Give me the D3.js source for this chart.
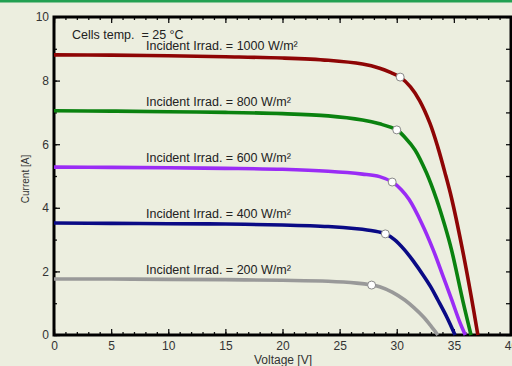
<!DOCTYPE html>
<html>
<head>
<meta charset="utf-8">
<script src="https://cdn.jsdelivr.net/npm/d3@7"></script>
<style>
  html, body { margin: 0; padding: 0; background: #eceedf; }
  svg { display: block; font-family: "Liberation Sans", Arial, sans-serif; }
</style>
</head>
<body>
<svg id="chart" width="512" height="366"></svg>
<script>
// irradiance levels, top to bottom
const irradiance = [1000, 800, 600, 400, 200];
const colors = ['#8e0505', '#0a820f', '#9a2cf5', '#0a0a85', '#999999'];

// I-V curves: voltage [V], current [A]
const volts1000 = [0, 5, 10, 15, 20, 24, 27, 28.5, 29.5, 30.3, 31.2, 32.0, 32.9, 33.6, 34.2, 34.8, 35.7, 36.5, 37.1];
const amps1000  = [8.81, 8.80, 8.78, 8.75, 8.71, 8.64, 8.52, 8.39, 8.25, 8.11, 7.80, 7.37, 6.66, 5.90, 5.13, 4.30, 2.78, 1.25, 0];
const volts800  = [0, 5, 10, 15, 20, 24, 27, 28.5, 30.0, 30.8, 31.6, 32.6, 33.5, 34.2, 34.8, 35.8, 36.5];
const amps800   = [7.05, 7.04, 7.02, 7.00, 6.96, 6.89, 6.76, 6.64, 6.45, 6.18, 5.82, 5.10, 4.25, 3.45, 2.67, 1.05, 0];
const volts600  = [0, 5, 10, 15, 20, 24, 27, 28.5, 29.6, 30.4, 31.1, 32.2, 33.2, 34.0, 34.8, 35.5, 36.0];
const amps600   = [5.28, 5.27, 5.26, 5.24, 5.21, 5.15, 5.06, 4.98, 4.81, 4.57, 4.25, 3.50, 2.67, 1.90, 1.12, 0.42, 0];
const volts400  = [0, 5, 10, 15, 20, 24, 26.5, 28, 29.0, 29.8, 30.7, 31.5, 32.3, 33.0, 33.6, 34.4, 35.1];
const amps400   = [3.52, 3.51, 3.50, 3.49, 3.46, 3.41, 3.34, 3.27, 3.18, 3.00, 2.67, 2.30, 1.89, 1.50, 1.10, 0.55, 0];
const volts200  = [0, 5, 10, 15, 20, 24, 26.5, 27.8, 28.5, 29.6, 30.7, 31.5, 32.3, 33.0, 33.6];
const amps200   = [1.76, 1.76, 1.75, 1.74, 1.72, 1.69, 1.63, 1.57, 1.52, 1.35, 1.10, 0.86, 0.58, 0.28, 0];

// maximum power points
const mppVolts = [30.3, 30.0, 29.6, 29.0, 27.8];
const mppAmps  = [8.11, 6.45, 4.81, 3.18, 1.57];

const xTicks = [0, 5, 10, 15, 20, 25, 30, 35, 40];
const yTicks = [0, 2, 4, 6, 8, 10];

const curves = [
  {v: volts1000, i: amps1000},
  {v: volts800, i: amps800},
  {v: volts600, i: amps600},
  {v: volts400, i: amps400},
  {v: volts200, i: amps200}
];

const svg = d3.select('#chart');
const plotLeft = 54, plotRight = 511, plotTop = 17, plotBottom = 335;

const x = d3.scaleLinear().domain([0, 40]).range([plotLeft, plotRight]);
const y = d3.scaleLinear().domain([0, 10]).range([plotBottom, plotTop]);

// green strip at the very top
svg.append('rect').attr('x', 0).attr('y', 0).attr('width', 512).attr('height', 2.5).attr('fill', '#22a052');

const axisStyle = g => {
  g.select('.domain').remove();
  g.selectAll('.tick line').attr('stroke', '#111').attr('stroke-width', 1.3);
  g.selectAll('.tick text').attr('fill', '#333').style('font-size', '12px');
};

// minor ticks
svg.append('g').attr('transform', `translate(0,${plotBottom})`)
  .call(d3.axisBottom(x).tickValues(d3.range(0, 41, 1)).tickSize(-3).tickFormat('')).call(axisStyle);
svg.append('g').attr('transform', `translate(0,${plotTop})`)
  .call(d3.axisTop(x).tickValues(d3.range(0, 41, 1)).tickSize(-3).tickFormat('')).call(axisStyle);
svg.append('g').attr('transform', `translate(${plotLeft},0)`)
  .call(d3.axisLeft(y).tickValues(d3.range(0, 11, 1)).tickSize(-3).tickFormat('')).call(axisStyle);
svg.append('g').attr('transform', `translate(${plotRight},0)`)
  .call(d3.axisRight(y).tickValues(d3.range(0, 11, 1)).tickSize(-5).tickFormat('')).call(axisStyle);

// major ticks + labels
svg.append('g').attr('transform', `translate(0,${plotBottom})`)
  .call(d3.axisBottom(x).tickValues(xTicks).tickSize(-6).tickPadding(6.5)).call(axisStyle);
svg.append('g').attr('transform', `translate(0,${plotTop})`)
  .call(d3.axisTop(x).tickValues(xTicks).tickSize(-6).tickFormat('')).call(axisStyle);
svg.append('g').attr('transform', `translate(${plotLeft},0)`)
  .call(d3.axisLeft(y).tickValues(yTicks).tickSize(-6).tickPadding(5)).call(axisStyle);

// frame
svg.append('rect')
  .attr('x', plotLeft).attr('y', plotTop)
  .attr('width', plotRight - plotLeft).attr('height', plotBottom - plotTop)
  .attr('fill', 'none').attr('stroke', '#000').attr('stroke-width', 3);

const line = d3.line().curve(d3.curveCatmullRom.alpha(0.5));

svg.append('g').selectAll('path')
  .data(curves)
  .join('path')
  .attr('d', c => line(c.v.map((v, k) => [x(v), y(c.i[k])])))
  .attr('fill', 'none')
  .attr('stroke', (c, k) => colors[k])
  .attr('stroke-width', 3.6);

svg.append('g').selectAll('circle')
  .data(mppVolts)
  .join('circle')
  .attr('cx', v => x(v))
  .attr('cy', (v, k) => y(mppAmps[k]))
  .attr('r', 4)
  .attr('fill', '#fff')
  .attr('stroke', '#888')
  .attr('stroke-width', 1);

svg.append('g').selectAll('text')
  .data(irradiance)
  .join('text')
  .attr('x', x(8.05))
  .attr('y', (g, k) => y(curves[k].i[0]) - 5)
  .attr('fill', '#222')
  .style('font-size', '12.5px')
  .text(g => `Incident Irrad. = ${g} W/m²`);

svg.append('text')
  .attr('x', 72).attr('y', 39)
  .attr('fill', '#222')
  .style('font-size', '12.5px')
  .attr('xml:space', 'preserve')
  .text('Cells temp.  = 25 °C');

svg.append('text')
  .attr('x', 283).attr('y', 364)
  .attr('text-anchor', 'middle')
  .attr('fill', '#333')
  .style('font-size', '12px')
  .text('Voltage [V]');

svg.append('text')
  .attr('transform', `translate(29,179) rotate(-90)`)
  .attr('text-anchor', 'middle')
  .attr('fill', '#333')
  .style('font-size', '10px')
  .text('Current [A]');
</script>
</body>
</html>
